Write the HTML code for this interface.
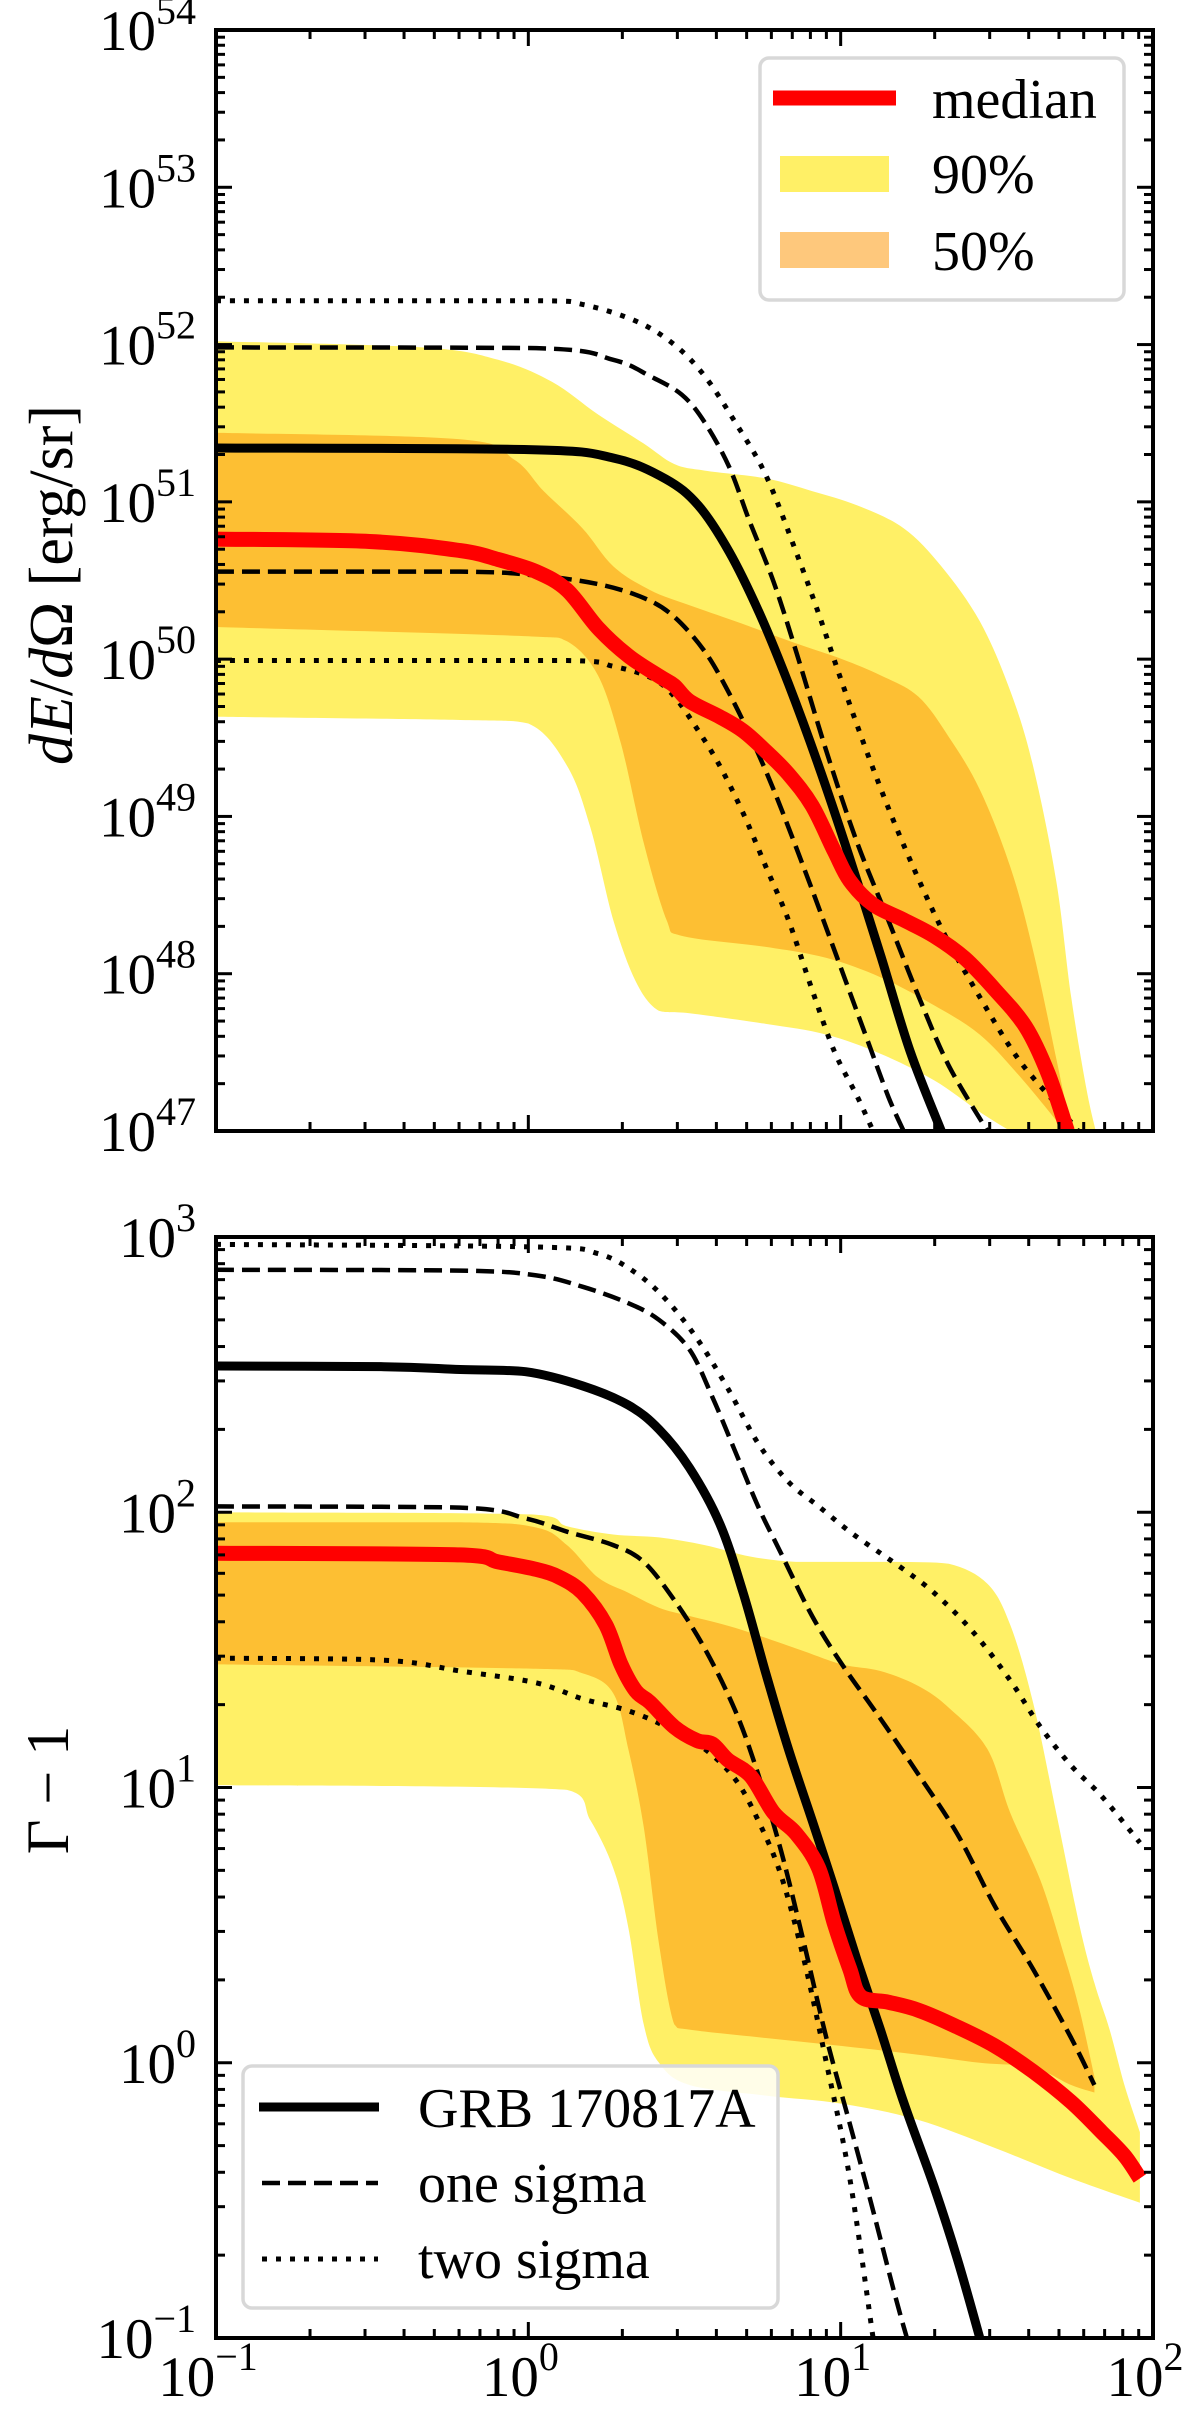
<!DOCTYPE html>
<html><head><meta charset="utf-8"><style>
html,body{margin:0;padding:0;background:#fff}
svg{display:block}
text{font-family:"Liberation Serif",serif;fill:#000}
</style></head><body>
<svg id="fig" xmlns="http://www.w3.org/2000/svg" width="1200" height="2427" viewBox="0 0 1200 2427">
<defs>
<clipPath id="clipTop"><rect x="216" y="30" width="937" height="1101"/></clipPath>
<clipPath id="clipBot"><rect x="216" y="1237" width="937" height="1101"/></clipPath>
</defs>
<g id="top"></g>
<g id="bot"></g>
<text transform="translate(72,585) rotate(-90)" text-anchor="middle" font-size="62"><tspan font-style="italic">dE</tspan>/<tspan font-style="italic">d</tspan>Ω [erg/sr]</text>
<text transform="translate(68,1790) rotate(-90)" text-anchor="middle" font-size="60">Γ − 1</text>
</svg>
<script>
// ---------- TOP PANEL DATA (dE/dOmega) ----------
const topGrbX=[0.1,1.0,1.87,2.75,3.5,4.4,5.5,6.8,8.5,10.7,13.5,16.7,21];
const topGrbY=[2.2e51,2.15e51,1.9e51,1.4e51,9.5e50,4.8e50,1.95e50,7e49,2.1e49,5.4e48,1.26e48,3.2e47,1e47];
const topDashHiX=[0.1,1.06,1.87,2.45,3.1,3.67,4.4,5.1,6.1,7.2,9.0,11.3,14.2,17.8,22.2,29.5];
const topDashHiY=[9.6e51,9.5e51,8e51,6.3e51,4.8e51,3.2e51,1.66e51,7.6e50,3.1e50,1.12e50,2.6e49,6.8e48,2.2e48,7.1e47,2.6e47,1e47];
const topDotHiX=[0.1,1.06,1.49,2.21,2.93,3.67,4.6,5.76,7.2,8.5,10.1,12.6,15.8,21,27.9,36.9,49,57.6];
const topDotHiY=[1.9e52,1.9e52,1.8e52,1.41e52,1e52,6.3e51,3.2e51,1.48e51,4.8e50,1.95e50,7.1e49,2.1e49,6.8e48,1.95e48,7.1e47,2.9e47,1.48e47,1e47];
const topDashLoX=[0.1,0.605,1.06,1.67,2.34,2.93,3.67,4.35,5.15,6.1,7.6,9.55,12,14.2,15.9];
const topDashLoY=[3.6e50,3.6e50,3.4e50,3.0e50,2.45e50,1.86e50,1.12e50,6.3e49,3.2e49,1.48e49,4.8e48,1.41e48,4.1e47,1.66e47,1e47];
const topDotLoX=[0.1,1.33,1.87,2.48,2.93,3.47,4.1,4.87,5.76,6.8,8.1,9.55,11.3,12.7];
const topDotLoY=[9.8e49,9.8e49,9.0e49,7.6e49,5.8e49,3.6e49,2.1e49,1.05e49,4.8e48,2.2e48,7.9e47,3.2e47,1.66e47,1e47];
const topMedX=[0.1,0.31,0.605,0.80,1.06,1.33,1.67,2.09,2.62,2.93,3.28,4.1,4.87,5.76,6.8,8.1,9.55,10.7,12.7,15.9,19.9,24.9,31.2,39.1,46.2,53.2];
const topMedY=[5.8e50,5.6e50,4.9e50,4.3e50,3.6e50,2.75e50,1.58e50,1.05e50,7.8e49,6.8e49,5.4e49,4.3e49,3.5e49,2.6e49,1.86e49,1.17e49,6.0e48,3.9e48,2.75e48,2.2e48,1.74e48,1.26e48,7.9e47,4.6e47,2.3e47,1e47];
const top90HiX=[0.1,0.457,0.80,1.19,1.67,2.34,2.93,3.67,5.76,8.1,11.3,15.9,21,27.9,34.9,41.3,49,54.7,61.2,65.6];
const top90HiY=[1.05e52,9.6e51,8e51,5.8e51,3.6e51,2.35e51,1.74e51,1.58e51,1.41e51,1.17e51,9.5e50,6.8e50,3.9e50,1.74e50,6.3e49,2.1e49,3.9e48,7.1e47,1.86e47,1e47];
const top90LoX=[0.1,0.605,1.0,1.33,1.58,1.87,2.21,2.62,3.28,5.76,9.0,13.4,19.9,27.9,34.9];
const top90LoY=[4.3e49,4.1e49,3.9e49,2.1e49,8.5e48,2.2e48,8.9e47,5.8e47,5.6e47,4.8e47,4.1e47,3.1e47,2.1e47,1.32e47,1e47];
const top50HiX=[0.1,0.605,0.9,1.12,1.49,1.87,2.45,3.28,4.6,7.2,10.1,13.4,17.7,22.2,27.9,34.9,41.3,49,54.7];
const top50HiY=[2.75e51,2.5e51,1.86e51,1.17e51,6.8e50,3.9e50,2.75e50,2.2e50,1.74e50,1.26e50,1e50,7.9e49,5.8e49,3.2e49,1.48e49,4.8e48,1.41e48,2.9e47,1e47];
const top50LoX=[0.1,1.0,1.33,1.67,1.98,2.34,2.77,3.1,5.76,9.0,13.4,19.9,27.9,36.9,49,52];
const top50LoY=[1.6e50,1.4e50,1.3e50,7.9e49,2.9e49,6.8e48,2.2e48,1.74e48,1.48e48,1.26e48,9.5e47,6.3e47,4.1e47,2.3e47,1.17e47,1e47];
const topYTicks=[47,48,49,50,51,52,53,54];

// ---------- BOTTOM PANEL DATA (Gamma - 1) ----------
const botGrbX=[0.1,0.345,0.605,0.98,1.49,2.09,2.62,3.28,4.1,4.87,5.76,6.8,8.1,9.55,11.3,13.4,15.9,19.9,23.6,27.9];
const botGrbY=[340,338,330,324,288,245,200,145,91,51,26,13.8,7.6,4.3,2.35,1.32,0.72,0.355,0.195,0.1];
const botDashHiX=[0.1,0.605,1.06,1.49,2.09,2.62,3.28,3.88,4.6,5.44,6.44,8.1,10.1,13.4,17.7,23.6,31.2,41.3,54.7,64.9];
const botDashHiY=[760,755,725,660,575,500,390,263,166,105,71,42,28,17.8,11.2,6.8,3.7,2.19,1.23,0.83];
const botDotHiX=[0.1,1.06,1.67,2.21,2.77,3.47,4.35,5.44,6.8,8.5,10.7,13.4,15.9,19.9,26.4,34.9,43.6,54.7,68.5,90.8];
const botDotHiY=[940,920,870,740,590,427,282,178,129,105,85,71,62,51,37,24.5,16.6,12,9.3,6.3];
const botDashLoX=[0.1,0.605,0.98,1.33,1.87,2.34,2.93,3.67,4.6,5.44,6.44,7.64,9.0,10.7,12.7,15.0,16.3];
const botDashLoY=[105,104,95,85,76,66,48,32,19,11.2,5.9,2.7,1.23,0.6,0.29,0.14,0.1];
const botDotLoX=[0.1,0.345,0.605,1.06,1.49,2.09,2.77,3.67,4.6,5.44,6.44,7.64,9.0,10.7,12.7];
const botDotLoY=[29.5,29,26.5,24,21,19,16.6,13.8,10.7,7.6,4.8,2.35,1.0,0.38,0.1];
const botMedX=[0.1,0.605,0.80,1.06,1.26,1.49,1.77,1.98,2.21,2.45,2.93,3.47,3.88,4.35,5.15,6.1,7.2,8.5,9.55,10.7,11.6,14.2,17.8,23.6,31.2,41.3,54.7,68.5,81,90.8];
const botMedY=[71,70,66,62,58,51,39,28,22.4,20.4,16.6,14.8,14.4,12.6,11,8.1,6.8,5.1,3.2,2.19,1.74,1.66,1.55,1.35,1.15,0.93,0.72,0.56,0.46,0.38];
const bot90HiX=[0.1,1.06,1.33,1.87,2.62,3.67,5.15,7.2,10.1,15,22.2,29.5,34.9,41.3,49,58,64.9,72.6,81,90.8];
const bot90HiY=[100,98,89,83,81,76,69,66,66,66,65,55,39,20.4,8.1,3.2,1.95,1.32,0.83,0.56];
const bot90LoX=[0.1,1.33,1.58,1.87,2.09,2.34,2.62,3.28,5.76,10.1,17.7,31.2,54.7,90.8];
const bot90LoY=[10.2,9.8,7.6,5.1,3.1,1.38,1.0,0.83,0.76,0.71,0.62,0.49,0.38,0.31];
const bot50HiX=[0.1,0.605,1.06,1.33,1.67,2.09,2.62,3.28,4.6,7.2,10.1,13.4,17.7,22.2,29.5,34.9,43.6,51.7,58,64.9];
const bot50HiY=[92,92,88,76,58,51,45,42,38,32,28,26.5,23.4,19.5,13.8,8.1,4.6,2.5,1.58,0.89];
const bot50LoX=[0.1,1.06,1.49,1.87,2.09,2.34,2.62,2.93,3.28,5.76,10.1,17.7,27.9,41.3,54.7,64.9];
const bot50LoY=[28,27,26,22,13.8,7.2,2.7,1.38,1.32,1.23,1.15,1.07,1.0,0.96,0.83,0.78];
const botYTicks=[-1,0,1,2,3];
const xTicks=[-1,0,1,2];

// ---------- AXES ----------
const L=216,R=1153,W=R-L;
const T1=30,B1=1131,T2=1237,B2=2338;
const xs=v=>L+(Math.log10(v)+1)/3*W;
const y1=v=>T1+(54-Math.log10(v))/7*(B1-T1);
const y2=v=>T2+(3-Math.log10(v))/4*(B2-T2);
const NS='http://www.w3.org/2000/svg';
function mk(tag,attrs,parent){const e=document.createElementNS(NS,tag);for(const k in attrs)e.setAttribute(k,attrs[k]);parent.appendChild(e);return e;}
function pts(X,Y,fy){return X.map((x,i)=>[xs(x),fy(Y[i])]);}
function clampY(v,a,b){const lo=Math.min(a,b),hi=Math.max(a,b);return Math.max(lo,Math.min(hi,v));}
function clampX(v,a,b){const lo=Math.min(a,b),hi=Math.max(a,b);return Math.max(lo,Math.min(hi,v));}
function smooth(P,start){
  let d=(start?'M':'L')+P[0][0].toFixed(1)+','+P[0][1].toFixed(1);
  for(let i=0;i<P.length-1;i++){
    const p0=P[Math.max(0,i-1)],p1=P[i],p2=P[i+1],p3=P[Math.min(P.length-1,i+2)];
    const c1=[clampX(p1[0]+(p2[0]-p0[0])/6,p1[0],p2[0]),clampY(p1[1]+(p2[1]-p0[1])/6,p1[1],p2[1])];
    const c2=[clampX(p2[0]-(p3[0]-p1[0])/6,p1[0],p2[0]),clampY(p2[1]-(p3[1]-p1[1])/6,p1[1],p2[1])];
    d+='C'+c1[0].toFixed(1)+','+c1[1].toFixed(1)+' '+c2[0].toFixed(1)+','+c2[1].toFixed(1)+' '+p2[0].toFixed(1)+','+p2[1].toFixed(1);
  }
  return d;
}
function linePath(X,Y,fy){return smooth(pts(X,Y,fy),true);}
function bandPath(XH,YH,XL,YL,fy){return smooth(pts(XH,YH,fy),true)+smooth(pts(XL,YL,fy).reverse(),false)+'Z';}

const COL90='#fff066',COL50='#fdbf33';
function panel(g,clip,fy,T,B,d,name){
  const cg=mk('g',{'clip-path':'url(#'+clip+')'},g);
  let e;
  e=mk('path',{d:bandPath(d.h90x,d.h90y,d.l90x,d.l90y,fy),fill:COL90},cg);
  
  
  e=mk('path',{d:bandPath(d.h50x,d.h50y,d.l50x,d.l50y,fy),fill:COL50},cg);
  
  
  const lines=[
    ['dotted-upper',d.dhx,d.dhy,{stroke:'#000','stroke-width':5,'stroke-dasharray':'5,9'}],
    ['dotted-lower',d.dlx,d.dly,{stroke:'#000','stroke-width':5,'stroke-dasharray':'5,9'}],
    ['dashed-upper',d.ahx,d.ahy,{stroke:'#000','stroke-width':4.5,'stroke-dasharray':'18,8'}],
    ['dashed-lower',d.alx,d.aly,{stroke:'#000','stroke-width':4.5,'stroke-dasharray':'18,8'}],
    ['grb-line',d.gx,d.gy,{stroke:'#000','stroke-width':9}],
    ['median-line',d.mx,d.my,{stroke:'#ff0000','stroke-width':15}]
  ];
  for(const [n,X,Y,st] of lines){
    e=mk('path',Object.assign({d:linePath(X,Y,fy),fill:'none','stroke-linejoin':'round'},st),cg);
    
    
  }
  const tg=mk('g',{stroke:'#000','stroke-width':3},g);
  for(let dec=-1;dec<2;dec++)for(let m=1;m<10;m++){
    const x=xs(m*Math.pow(10,dec));const len=m===1?16:9;
    mk('line',{x1:x,x2:x,y1:B,y2:B-len},tg);mk('line',{x1:x,x2:x,y1:T,y2:T+len},tg);
  }
  const yt=d.yticks;
  for(let k=0;k<yt.length;k++){
    for(let m=1;m<10;m++){
      if(k===yt.length-1&&m>1)break;
      const y=fy(m*Math.pow(10,yt[k]));const len=m===1?16:9;
      mk('line',{x1:L,x2:L+len,y1:y,y2:y},tg);mk('line',{x1:R,x2:R-len,y1:y,y2:y},tg);
    }
    const y=fy(Math.pow(10,yt[k]));
    const t=mk('text',{x:196,y:y+20,'text-anchor':'end','font-size':57},g);
    
    
    t.appendChild(document.createTextNode('10'));
    const s=mk('tspan',{dy:-26,'font-size':40},t);s.textContent=String(yt[k]).replace('-','−');
  }
  e=mk('rect',{x:L,y:T,width:W,height:B-T,fill:'none',stroke:'#000','stroke-width':4},g);
  
  
}

const gT=document.getElementById('top'),gB=document.getElementById('bot');
panel(gT,'clipTop',y1,T1,B1,{h90x:top90HiX,h90y:top90HiY,l90x:top90LoX,l90y:top90LoY,h50x:top50HiX,h50y:top50HiY,l50x:top50LoX,l50y:top50LoY,
 dhx:topDotHiX,dhy:topDotHiY,dlx:topDotLoX,dly:topDotLoY,ahx:topDashHiX,ahy:topDashHiY,alx:topDashLoX,aly:topDashLoY,gx:topGrbX,gy:topGrbY,mx:topMedX,my:topMedY,yticks:topYTicks},'energy');
panel(gB,'clipBot',y2,T2,B2,{h90x:bot90HiX,h90y:bot90HiY,l90x:bot90LoX,l90y:bot90LoY,h50x:bot50HiX,h50y:bot50HiY,l50x:bot50LoX,l50y:bot50LoY,
 dhx:botDotHiX,dhy:botDotHiY,dlx:botDotLoX,dly:botDotLoY,ahx:botDashHiX,ahy:botDashHiY,alx:botDashLoX,aly:botDashLoY,gx:botGrbX,gy:botGrbY,mx:botMedX,my:botMedY,yticks:botYTicks},'lorentz');

for(const k of xTicks){
  const t=mk('text',{x:xs(Math.pow(10,k))-8,y:2396,'text-anchor':'middle','font-size':57},gB);
  
  
  t.appendChild(document.createTextNode('10'));
  const s=mk('tspan',{dy:-26,'font-size':40},t);s.textContent=String(k).replace('-','−');
}

const lg=mk('g',{},gT);


mk('rect',{x:760,y:58,width:364,height:242,rx:9,fill:'#fff','fill-opacity':0.85,stroke:'#d8d8d8','stroke-width':3.5},lg);
let le=mk('line',{x1:773,x2:896,y1:98,y2:98,stroke:'#ff0000','stroke-width':15},lg);


le=mk('rect',{x:780,y:156,width:109,height:36,fill:COL90},lg);


le=mk('rect',{x:780,y:232,width:109,height:36,fill:'#fec87c'},lg);


[['median',118],['90%',193],['50%',270]].forEach(([s,y])=>{const t=mk('text',{x:932,y:y,'font-size':56},lg);t.textContent=s;
 
 });

const lb=mk('g',{},gB);


mk('rect',{x:243,y:2066,width:535,height:242,rx:9,fill:'#fff','fill-opacity':0.85,stroke:'#d8d8d8','stroke-width':3.5},lb);
le=mk('line',{x1:259,x2:379,y1:2107,y2:2107,stroke:'#000','stroke-width':9},lb);


le=mk('line',{x1:262,x2:378,y1:2183,y2:2183,stroke:'#000','stroke-width':4.5,'stroke-dasharray':'18,8'},lb);


le=mk('line',{x1:262,x2:378,y1:2259,y2:2259,stroke:'#000','stroke-width':5,'stroke-dasharray':'5,9'},lb);


[['GRB 170817A',2127],['one sigma',2202],['two sigma',2278]].forEach(([s,y])=>{const t=mk('text',{x:418,y:y,'font-size':56},lb);t.textContent=s;
 
 });
</script>
</body></html>
